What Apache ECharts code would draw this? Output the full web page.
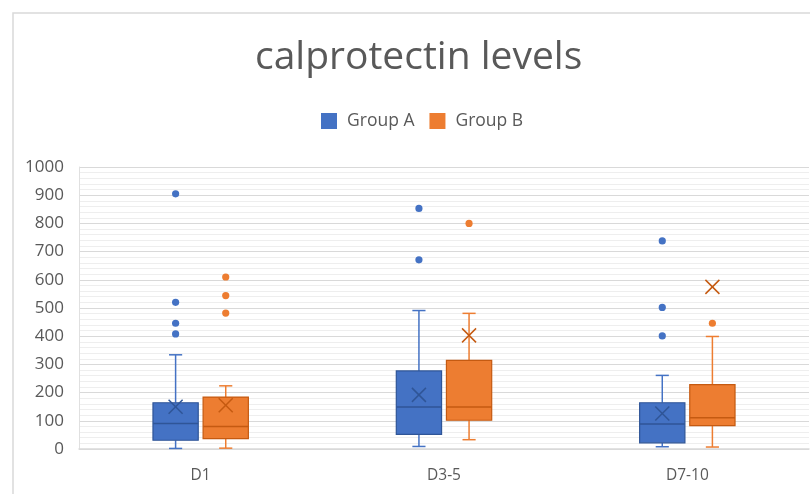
<!DOCTYPE html>
<html>
<head>
<meta charset="utf-8">
<script src="https://cdn.jsdelivr.net/npm/echarts@6/dist/echarts.min.js"></script>
<style>html,body{margin:0;padding:0;background:#fff}#c{width:810px;height:494px}</style>
</head>
<body>
<div id="c"></div>
<script>
var categories = ['D1', 'D3-5', 'D7-10'];
// [min, Q1, median, Q3, max]
var groupABox = [[2, 31, 90, 164, 334], [9, 52, 149, 277, 491], [8, 22, 89, 164, 261]];
var groupBBox = [[3, 37, 80, 184, 224], [33, 102, 149, 314, 481], [7, 83, 111, 228, 399]];
var groupAMean = [150, 192, 126];
var groupBMean = [155, 403, 575];
// [categoryIndex, value]
var groupAOutliers = [[0, 905], [0, 520], [0, 446], [0, 408], [1, 853], [1, 671], [2, 738], [2, 502], [2, 401]];
var groupBOutliers = [[0, 610], [0, 544], [0, 482], [1, 800], [2, 446]];
var yMin = 0, yMax = 1000, yInterval = 100;

var blue = '#4472C4', blueDark = '#2F5597';
var orange = '#ED7D31', orangeDark = '#C55A11';

function boxData(arr) {
  return arr.map(function (d, i) { return [i].concat(d); });
}
function meanData(arr) {
  return arr.map(function (v, i) { return [i, v]; });
}

function boxRender(offFrac, fill, stroke) {
  return function (params, api) {
    var c = api.value(0);
    var band = api.size([1, 0])[0];
    var off = band * offFrac;
    var hw = band * 0.093;
    var cw = band * 0.027;
    var pMin = api.coord([c, api.value(1)]);
    var pQ1 = api.coord([c, api.value(2)]);
    var pMed = api.coord([c, api.value(3)]);
    var pQ3 = api.coord([c, api.value(4)]);
    var pMax = api.coord([c, api.value(5)]);
    var x = pMin[0] + off;
    var ls = { stroke: fill, lineWidth: 1.5 };
    return {
      type: 'group',
      children: [
        { type: 'line', shape: { x1: x, y1: pQ3[1], x2: x, y2: pMax[1] }, style: ls },
        { type: 'line', shape: { x1: x - cw, y1: pMax[1], x2: x + cw, y2: pMax[1] }, style: ls },
        { type: 'line', shape: { x1: x, y1: pQ1[1], x2: x, y2: pMin[1] }, style: ls },
        { type: 'line', shape: { x1: x - cw, y1: pMin[1], x2: x + cw, y2: pMin[1] }, style: ls },
        { type: 'rect', shape: { x: x - hw, y: pQ3[1], width: hw * 2, height: pQ1[1] - pQ3[1] },
          style: { fill: fill, stroke: stroke, lineWidth: 1.2 } },
        { type: 'line', shape: { x1: x - hw, y1: pMed[1], x2: x + hw, y2: pMed[1] },
          style: { stroke: stroke, lineWidth: 1.5 } }
      ]
    };
  };
}
function dotRender(offFrac, fill) {
  return function (params, api) {
    var band = api.size([1, 0])[0];
    var p = api.coord([api.value(0), api.value(1)]);
    return { type: 'circle', shape: { cx: p[0] + band * offFrac, cy: p[1], r: 3.6 }, style: { fill: fill } };
  };
}
function meanRender(offFrac, stroke) {
  return function (params, api) {
    var band = api.size([1, 0])[0];
    var p = api.coord([api.value(0), api.value(1)]);
    var x = p[0] + band * offFrac, y = p[1], h = 7;
    var st = { stroke: stroke, lineWidth: 1.5 };
    return {
      type: 'group',
      children: [
        { type: 'line', shape: { x1: x - h, y1: y - h, x2: x + h, y2: y + h }, style: st },
        { type: 'line', shape: { x1: x - h, y1: y + h, x2: x + h, y2: y - h }, style: st }
      ]
    };
  };
}

var offA = -0.103, offB = 0.103;
var chart = echarts.init(document.getElementById('c'), null, { renderer: 'canvas' });
chart.setOption({
  animation: false,
  backgroundColor: '#fff',
  graphic: [{
    type: 'rect', shape: { x: 13, y: 13, width: 900, height: 600 },
    style: { fill: 'none', stroke: '#d9d9d9', lineWidth: 1.5 }, silent: true, z: -10
  }],
  title: {
    text: 'calprotectin levels', left: 250, top: 33,
    textStyle: { fontFamily: 'Open Sans', fontSize: 39, fontWeight: 'normal', color: '#595959' }
  },
  legend: {
    data: ['Group A', 'Group B'], top: 107, left: 316,
    icon: 'rect', itemWidth: 16, itemHeight: 16, itemGap: 15,
    textStyle: { fontFamily: 'Open Sans', fontSize: 17.5, color: '#595959', padding: [0, 0, 0, 5] }
  },
  grid: { left: 79, right: 1, top: 167, bottom: 45 },
  xAxis: {
    type: 'category', data: categories,
    axisLine: { lineStyle: { color: '#d9d9d9', width: 1.5 } },
    axisTick: { show: false },
    axisLabel: { fontFamily: 'Open Sans', fontSize: 15.5, color: '#595959', margin: 19 },
    splitLine: { show: false }
  },
  yAxis: {
    type: 'value', min: yMin, max: yMax, interval: yInterval,
    axisLine: { show: true, lineStyle: { color: '#e0e0e0' } },
    axisTick: { show: false },
    axisLabel: { fontFamily: 'Open Sans', fontSize: 17, color: '#595959', margin: 15,
      formatter: function (v) { return String(v); } },
    splitLine: { lineStyle: { color: '#d9d9d9', width: 1.2 } },
    minorTick: { show: false, splitNumber: 5 },
    minorSplitLine: { show: true, lineStyle: { color: '#eeeeee' } }
  },
  series: [
    { name: 'Group A', type: 'custom', renderItem: boxRender(offA, blue, blueDark),
      itemStyle: { color: blue, borderColor: blueDark }, data: boxData(groupABox),
      encode: { x: 0, y: [1, 2, 3, 4, 5] } },
    { name: 'Group B', type: 'custom', renderItem: boxRender(offB, orange, orangeDark),
      itemStyle: { color: orange, borderColor: orangeDark }, data: boxData(groupBBox),
      encode: { x: 0, y: [1, 2, 3, 4, 5] } },
    { name: 'Group A', type: 'custom', renderItem: dotRender(offA, blue),
      itemStyle: { color: blue }, data: groupAOutliers, encode: { x: 0, y: 1 } },
    { name: 'Group B', type: 'custom', renderItem: dotRender(offB, orange),
      itemStyle: { color: orange }, data: groupBOutliers, encode: { x: 0, y: 1 } },
    { name: 'Group A', type: 'custom', renderItem: meanRender(offA, blueDark),
      itemStyle: { color: blue }, data: meanData(groupAMean), encode: { x: 0, y: 1 }, z: 5 },
    { name: 'Group B', type: 'custom', renderItem: meanRender(offB, orangeDark),
      itemStyle: { color: orange }, data: meanData(groupBMean), encode: { x: 0, y: 1 }, z: 5 }
  ]
});
</script>
</body>
</html>
